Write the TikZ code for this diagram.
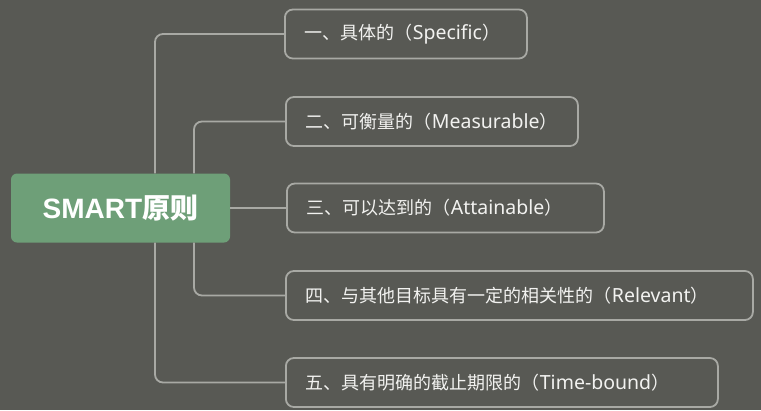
\documentclass[tikz,border=0pt]{standalone}
\usepackage{fontspec}
\setmainfont{Noto Sans}
\newfontfamily\cjk{Noto Sans CJK SC}
\newfontfamily\rootlatin{Liberation Sans}
\definecolor{bg}{HTML}{585954}
\definecolor{ln}{HTML}{A8A9A4}
\definecolor{rootg}{HTML}{6E9F78}
\definecolor{txt}{HTML}{F2F2F0}
\newcommand{\zh}[1]{{\fontsize{18}{21}\selectfont\cjk #1}}
\begin{document}
\begin{tikzpicture}[x=1pt,y=-1pt,
  rootbox/.style={fill=rootg, rounded corners=6pt, minimum width=219pt, minimum height=69pt, inner sep=0pt, text=white},
  itembox/.style={draw=ln, line width=1.8pt, rounded corners=8pt, anchor=west, minimum height=49pt, inner xsep=20pt, inner ysep=0pt, text=txt, font=\fontsize{19.5}{22}\selectfont},
  conn/.style={draw=ln, line width=1.8pt, rounded corners=8pt}]
\fill[bg] (0,0) rectangle (761,410);
\useasboundingbox (0,0) rectangle (761,410);
\node[rootbox] (root) at (120.5,208) {{\rootlatin\fontsize{28}{30}\selectfont\bfseries SMART}{\cjk\fontsize{28}{30}\selectfont\bfseries 原则}};
\node[itembox] (b1) at (284,34) {\makebox[202pt][l]{\zh{一、具体的（}Specific\zh{）}}};
\node[itembox] (b2) at (285,121.5) {\makebox[252pt][l]{\zh{二、可衡量的（}Measurable\zh{）}}};
\node[itembox] (b3) at (286,208) {\makebox[277pt][l]{\zh{三、可以达到的（}Attainable\zh{）}}};
\node[itembox] (b4) at (285,295.5) {\makebox[427pt][l]{\zh{四、与其他目标具有一定的相关性的（}Relevant\zh{）}}};
\node[itembox] (b5) at (285,382.5) {\makebox[392pt][l]{\zh{五、具有明确的截止期限的（}Time-bound\zh{）}}};
\coordinate (xo) at (155,0);
\coordinate (xi) at (194,0);
\draw[conn] (root.north -| xo) |- (b1.west);
\draw[conn] (root.north -| xi) |- (b2.west);
\draw[conn] (root.east) -- (b3.west);
\draw[conn] (root.south -| xi) |- (b4.west);
\draw[conn] (root.south -| xo) |- (b5.west);
\end{tikzpicture}
\end{document}
